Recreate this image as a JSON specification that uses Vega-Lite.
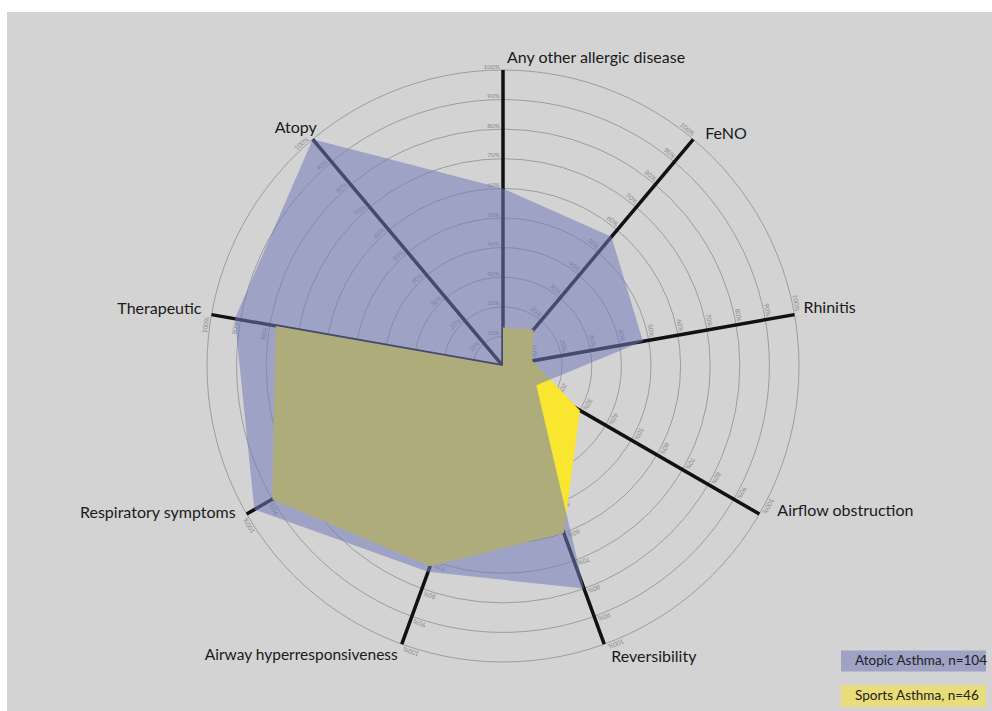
{
  "$schema": "https://vega.github.io/schema/vega-lite/v6.json",
  "width": 985,
  "height": 699,
  "padding": {"left": 7, "top": 12, "right": 0, "bottom": 0},
  "autosize": {"type": "none"},
  "background": "white",
  "config": {
    "view": {"fill": "#d3d3d3", "stroke": null},
    "font": "Lato",
    "text": {"font": "Lato"}
  },
  "datasets": {
    "spokes": [
      {"i": 0, "axis": "Any other allergic disease"},
      {"i": 1, "axis": "FeNO"},
      {"i": 2, "axis": "Rhinitis"},
      {"i": 3, "axis": "Airflow obstruction"},
      {"i": 4, "axis": "Reversibility"},
      {"i": 5, "axis": "Airway hyperresponsiveness"},
      {"i": 6, "axis": "Respiratory symptoms"},
      {"i": 7, "axis": "Therapeutic"},
      {"i": 8, "axis": "Atopy"}
    ],
    "scores": [
      {"i": 0, "axis": "Any other allergic disease", "group": "Atopic Asthma, n=104", "pct": 60},
      {"i": 1, "axis": "FeNO", "group": "Atopic Asthma, n=104", "pct": 57},
      {"i": 2, "axis": "Rhinitis", "group": "Atopic Asthma, n=104", "pct": 48},
      {"i": 3, "axis": "Airflow obstruction", "group": "Atopic Asthma, n=104", "pct": 13},
      {"i": 4, "axis": "Reversibility", "group": "Atopic Asthma, n=104", "pct": 80},
      {"i": 5, "axis": "Airway hyperresponsiveness", "group": "Atopic Asthma, n=104", "pct": 74},
      {"i": 6, "axis": "Respiratory symptoms", "group": "Atopic Asthma, n=104", "pct": 97},
      {"i": 7, "axis": "Therapeutic", "group": "Atopic Asthma, n=104", "pct": 92},
      {"i": 8, "axis": "Atopy", "group": "Atopic Asthma, n=104", "pct": 100},
      {"i": 0, "axis": "Any other allergic disease", "group": "Sports Asthma, n=46", "pct": 13},
      {"i": 1, "axis": "FeNO", "group": "Sports Asthma, n=46", "pct": 16},
      {"i": 2, "axis": "Rhinitis", "group": "Sports Asthma, n=46", "pct": 10},
      {"i": 3, "axis": "Airflow obstruction", "group": "Sports Asthma, n=46", "pct": 30},
      {"i": 4, "axis": "Reversibility", "group": "Sports Asthma, n=46", "pct": 60},
      {"i": 5, "axis": "Airway hyperresponsiveness", "group": "Sports Asthma, n=46", "pct": 72},
      {"i": 6, "axis": "Respiratory symptoms", "group": "Sports Asthma, n=46", "pct": 90},
      {"i": 7, "axis": "Therapeutic", "group": "Sports Asthma, n=46", "pct": 78},
      {"i": 8, "axis": "Atopy", "group": "Sports Asthma, n=46", "pct": 0}
    ],
    "rings": [
      {"level": 10, "spoke": [0, 1, 2, 3, 4, 5, 6, 7, 8]},
      {"level": 20, "spoke": [0, 1, 2, 3, 4, 5, 6, 7, 8]},
      {"level": 30, "spoke": [0, 1, 2, 3, 4, 5, 6, 7, 8]},
      {"level": 40, "spoke": [0, 1, 2, 3, 4, 5, 6, 7, 8]},
      {"level": 50, "spoke": [0, 1, 2, 3, 4, 5, 6, 7, 8]},
      {"level": 60, "spoke": [0, 1, 2, 3, 4, 5, 6, 7, 8]},
      {"level": 70, "spoke": [0, 1, 2, 3, 4, 5, 6, 7, 8]},
      {"level": 80, "spoke": [0, 1, 2, 3, 4, 5, 6, 7, 8]},
      {"level": 90, "spoke": [0, 1, 2, 3, 4, 5, 6, 7, 8]},
      {"level": 100, "spoke": [0, 1, 2, 3, 4, 5, 6, 7, 8]}
    ]
  },
  "layer": [
    {
      "data": {"name": "rings"},
      "transform": [{"calculate": "0", "as": "cx"}, {"calculate": "0", "as": "cy"}],
      "mark": {"type": "point", "shape": "circle", "filled": false, "color": "#9d9d9d", "strokeWidth": 1, "opacity": 1},
      "encoding": {
        "x": {"field": "cx", "type": "quantitative", "scale": {"domain": [-1.67568, 1.65203], "nice": false, "zero": false}, "axis": null},
        "y": {"field": "cy", "type": "quantitative", "scale": {"domain": [-1.16554, 1.19595], "nice": false, "zero": false}, "axis": null},
        "size": {"field": "level", "type": "quantitative", "scale": {"type": "pow", "exponent": 2, "domain": [0, 100], "range": [0, 350464]}, "legend": null}
      }
    },
    {
      "data": {"name": "spokes"},
      "transform": [
        {"calculate": "0", "as": "cx"},
        {"calculate": "0", "as": "cy"},
        {"calculate": "sin(datum.i * 2 * PI / 9)", "as": "ex"},
        {"calculate": "cos(datum.i * 2 * PI / 9)", "as": "ey"}
      ],
      "mark": {"type": "rule", "color": "#111111", "strokeWidth": 3.5},
      "encoding": {
        "x": {"field": "cx", "type": "quantitative", "scale": {"domain": [-1.67568, 1.65203], "nice": false, "zero": false}, "axis": null},
        "y": {"field": "cy", "type": "quantitative", "scale": {"domain": [-1.16554, 1.19595], "nice": false, "zero": false}, "axis": null},
        "x2": {"field": "ex"},
        "y2": {"field": "ey"}
      }
    },
    {
      "data": {"name": "rings"},
      "transform": [
        {"flatten": ["spoke"]},
        {"calculate": "sin(datum.spoke * 2 * PI / 9) * datum.level / 100", "as": "tx"},
        {"calculate": "cos(datum.spoke * 2 * PI / 9) * datum.level / 100", "as": "ty"},
        {"calculate": "datum.spoke * 40", "as": "deg"},
        {"calculate": "datum.level + '%'", "as": "lab"}
      ],
      "mark": {"type": "text", "align": "right", "baseline": "bottom", "dx": -3, "dy": -0.5, "fontSize": 6.5, "color": "#8a8a8a"},
      "encoding": {
        "x": {"field": "tx", "type": "quantitative", "scale": {"domain": [-1.67568, 1.65203], "nice": false, "zero": false}, "axis": null},
        "y": {"field": "ty", "type": "quantitative", "scale": {"domain": [-1.16554, 1.19595], "nice": false, "zero": false}, "axis": null},
        "text": {"field": "lab", "type": "nominal"},
        "angle": {"field": "deg", "type": "quantitative", "scale": {"domain": [0, 360], "range": [0, 360]}}
      }
    },
    {
      "data": {"name": "scores"},
      "transform": [
        {"filter": "datum.group == 'Sports Asthma, n=46'"},
        {"calculate": "sin(datum.i * 2 * PI / 9) * datum.pct / 100", "as": "px"},
        {"calculate": "cos(datum.i * 2 * PI / 9) * datum.pct / 100", "as": "py"}
      ],
      "mark": {"type": "line", "filled": true, "interpolate": "linear-closed", "opacity": 1, "strokeWidth": 0},
      "encoding": {
        "x": {"field": "px", "type": "quantitative", "scale": {"domain": [-1.67568, 1.65203], "nice": false, "zero": false}, "axis": null},
        "y": {"field": "py", "type": "quantitative", "scale": {"domain": [-1.16554, 1.19595], "nice": false, "zero": false}, "axis": null},
        "order": {"field": "i", "type": "quantitative"},
        "color": {
          "field": "group", "type": "nominal",
          "scale": {"domain": ["Atopic Asthma, n=104", "Sports Asthma, n=46"], "range": ["#737cbb", "#f9e62e"]},
          "legend": {
            "title": null, "orient": "none", "legendX": 834, "legendY": 638, "padding": 0,
            "symbolType": "M-1,-0.145L1,-0.145L1,0.145L-1,0.145Z", "symbolSize": 21025,
            "symbolStrokeWidth": 0, "symbolOpacity": 0.9, "clipHeight": 22, "rowPadding": 13,
            "labelOffset": -131, "labelFontSize": 13.5, "labelColor": "#222222", "labelFont": "Lato", "labelLimit": 0
          }
        }
      }
    },
    {
      "data": {"name": "scores"},
      "transform": [
        {"filter": "datum.group == 'Atopic Asthma, n=104'"},
        {"calculate": "sin(datum.i * 2 * PI / 9) * datum.pct / 100", "as": "px"},
        {"calculate": "cos(datum.i * 2 * PI / 9) * datum.pct / 100", "as": "py"}
      ],
      "mark": {"type": "line", "filled": true, "interpolate": "linear-closed", "opacity": 0.55, "strokeWidth": 0},
      "encoding": {
        "x": {"field": "px", "type": "quantitative", "scale": {"domain": [-1.67568, 1.65203], "nice": false, "zero": false}, "axis": null},
        "y": {"field": "py", "type": "quantitative", "scale": {"domain": [-1.16554, 1.19595], "nice": false, "zero": false}, "axis": null},
        "order": {"field": "i", "type": "quantitative"},
        "color": {"field": "group", "type": "nominal"}
      }
    },
    {
      "data": {"name": "spokes"},
      "transform": [
        {"filter": "datum.i == 0"},
        {"calculate": "sin(datum.i * 2 * PI / 9)", "as": "ex"},
        {"calculate": "cos(datum.i * 2 * PI / 9)", "as": "ey"}
      ],
      "mark": {"type": "text", "align": "left", "baseline": "middle", "dx": 4, "dy": -12, "fontSize": 16, "color": "#1a1a1a"},
      "encoding": {
        "x": {"field": "ex", "type": "quantitative", "axis": null},
        "y": {"field": "ey", "type": "quantitative", "axis": null},
        "text": {"field": "axis", "type": "nominal"}
      }
    },
    {
      "data": {"name": "spokes"},
      "transform": [
        {"filter": "datum.i == 1"},
        {"calculate": "sin(datum.i * 2 * PI / 9)", "as": "ex"},
        {"calculate": "cos(datum.i * 2 * PI / 9)", "as": "ey"}
      ],
      "mark": {"type": "text", "align": "left", "baseline": "middle", "dx": 12, "dy": -5, "fontSize": 16, "color": "#1a1a1a"},
      "encoding": {
        "x": {"field": "ex", "type": "quantitative", "axis": null},
        "y": {"field": "ey", "type": "quantitative", "axis": null},
        "text": {"field": "axis", "type": "nominal"}
      }
    },
    {
      "data": {"name": "spokes"},
      "transform": [
        {"filter": "datum.i == 2"},
        {"calculate": "sin(datum.i * 2 * PI / 9)", "as": "ex"},
        {"calculate": "cos(datum.i * 2 * PI / 9)", "as": "ey"}
      ],
      "mark": {"type": "text", "align": "left", "baseline": "middle", "dx": 9, "dy": -7, "fontSize": 16, "color": "#1a1a1a"},
      "encoding": {
        "x": {"field": "ex", "type": "quantitative", "axis": null},
        "y": {"field": "ey", "type": "quantitative", "axis": null},
        "text": {"field": "axis", "type": "nominal"}
      }
    },
    {
      "data": {"name": "spokes"},
      "transform": [
        {"filter": "datum.i == 3"},
        {"calculate": "sin(datum.i * 2 * PI / 9)", "as": "ex"},
        {"calculate": "cos(datum.i * 2 * PI / 9)", "as": "ey"}
      ],
      "mark": {"type": "text", "align": "left", "baseline": "middle", "dx": 18, "dy": -3, "fontSize": 16, "color": "#1a1a1a"},
      "encoding": {
        "x": {"field": "ex", "type": "quantitative", "axis": null},
        "y": {"field": "ey", "type": "quantitative", "axis": null},
        "text": {"field": "axis", "type": "nominal"}
      }
    },
    {
      "data": {"name": "spokes"},
      "transform": [
        {"filter": "datum.i == 4"},
        {"calculate": "sin(datum.i * 2 * PI / 9)", "as": "ex"},
        {"calculate": "cos(datum.i * 2 * PI / 9)", "as": "ey"}
      ],
      "mark": {"type": "text", "align": "left", "baseline": "middle", "dx": 7, "dy": 13, "fontSize": 16, "color": "#1a1a1a"},
      "encoding": {
        "x": {"field": "ex", "type": "quantitative", "axis": null},
        "y": {"field": "ey", "type": "quantitative", "axis": null},
        "text": {"field": "axis", "type": "nominal"}
      }
    },
    {
      "data": {"name": "spokes"},
      "transform": [
        {"filter": "datum.i == 5"},
        {"calculate": "sin(datum.i * 2 * PI / 9)", "as": "ex"},
        {"calculate": "cos(datum.i * 2 * PI / 9)", "as": "ey"}
      ],
      "mark": {"type": "text", "align": "right", "baseline": "middle", "dx": -4, "dy": 11, "fontSize": 15.5, "color": "#1a1a1a"},
      "encoding": {
        "x": {"field": "ex", "type": "quantitative", "axis": null},
        "y": {"field": "ey", "type": "quantitative", "axis": null},
        "text": {"field": "axis", "type": "nominal"}
      }
    },
    {
      "data": {"name": "spokes"},
      "transform": [
        {"filter": "datum.i == 6"},
        {"calculate": "sin(datum.i * 2 * PI / 9)", "as": "ex"},
        {"calculate": "cos(datum.i * 2 * PI / 9)", "as": "ey"}
      ],
      "mark": {"type": "text", "align": "right", "baseline": "middle", "dx": -11, "dy": -1, "fontSize": 16, "color": "#1a1a1a"},
      "encoding": {
        "x": {"field": "ex", "type": "quantitative", "axis": null},
        "y": {"field": "ey", "type": "quantitative", "axis": null},
        "text": {"field": "axis", "type": "nominal"}
      }
    },
    {
      "data": {"name": "spokes"},
      "transform": [
        {"filter": "datum.i == 7"},
        {"calculate": "sin(datum.i * 2 * PI / 9)", "as": "ex"},
        {"calculate": "cos(datum.i * 2 * PI / 9)", "as": "ey"}
      ],
      "mark": {"type": "text", "align": "right", "baseline": "middle", "dx": -10, "dy": -6, "fontSize": 16, "color": "#1a1a1a"},
      "encoding": {
        "x": {"field": "ex", "type": "quantitative", "axis": null},
        "y": {"field": "ey", "type": "quantitative", "axis": null},
        "text": {"field": "axis", "type": "nominal"}
      }
    },
    {
      "data": {"name": "spokes"},
      "transform": [
        {"filter": "datum.i == 8"},
        {"calculate": "sin(datum.i * 2 * PI / 9)", "as": "ex"},
        {"calculate": "cos(datum.i * 2 * PI / 9)", "as": "ey"}
      ],
      "mark": {"type": "text", "align": "center", "baseline": "middle", "dx": -17, "dy": -11, "fontSize": 16, "color": "#1a1a1a"},
      "encoding": {
        "x": {"field": "ex", "type": "quantitative", "axis": null},
        "y": {"field": "ey", "type": "quantitative", "axis": null},
        "text": {"field": "axis", "type": "nominal"}
      }
    }
  ]
}
